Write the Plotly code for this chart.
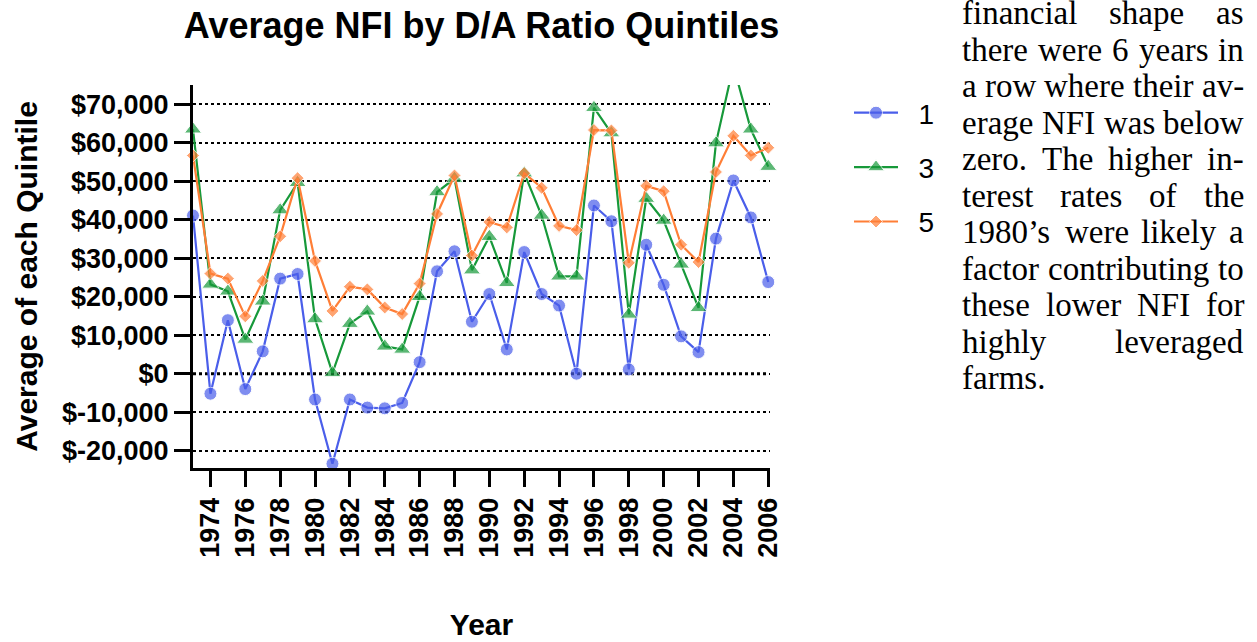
import plotly.graph_objects as go

# ---------------- data ----------------
years = list(range(1973, 2007))
q1 = [41100, -5200, 13900, -4000, 5800, 24700, 25900, -6700, -23400, -6700,
      -8800, -9000, -7600, 3000, 26600, 31800, 13500, 20700, 6300, 31600,
      20700, 17700, 0, 43700, 39600, 1100, 33500, 23100, 9700, 5600,
      35100, 50200, 40600, 23800]
q3 = [63500, 23200, 21400, 8900, 18800, 42500, 49600, 14200, 200, 13000,
      16200, 7100, 6300, 20000, 47200, 50700, 26900, 35600, 23600, 52100,
      41100, 25300, 25300, 69100, 62500, 15400, 45500, 39800, 28400, 17100,
      59900, 80000, 63500, 53800]
q5 = [56700, 26000, 24700, 14900, 24100, 35700, 50800, 29300, 16300, 22600,
      21900, 17200, 15500, 23400, 41500, 51500, 30700, 39400, 38000, 52100,
      48300, 38400, 37300, 63300, 63200, 28800, 48800, 47400, 33500, 29000,
      52400, 61800, 56700, 58700]
series_names = ["1", "3", "5"]
x_tickvals = list(range(1974, 2007, 2))
y_tickvals = list(range(-20000, 70001, 10000))
y_ticktext = [f"${v:,}" for v in y_tickvals]

side_lines = [
    "financial shape as",
    "there were 6 years in",
    "a row where their av-",
    "erage NFI was below",
    "zero. The higher in-",
    "terest rates of the",
    "1980\u2019s were likely a",
    "factor contributing to",
    "these lower NFI for",
    "highly leveraged",
    "farms.",
]

# ---------------- layout constants ----------------
W, H = 1257, 642
PL, PR, PT, PB = 193, 770, 85, 468
Y_MIN, Y_MAX = -24500, 75000
X_RANGE = [1973, 2006.1]

colors = ["#4A5EEA", "#17993A", "#FF7E36"]
symbols = ["circle", "triangle-up", "diamond"]
msizes = [13, 15, 10]

fig = go.Figure()
for name, vals, col, sym, ms in zip(series_names, [q1, q3, q5], colors, symbols, msizes):
    sizes = [ms if (Y_MIN <= v <= Y_MAX) else 0 for v in vals]
    fig.add_trace(go.Scatter(
        x=years, y=vals, name="\u00a0\u00a0" + name, mode="lines+markers",
        line=dict(color=col, width=2.2),
        marker=dict(symbol=sym, size=sizes, color=col),
        cliponaxis=False, legendgroup=name,
    ))

# zero reference line (heavier dotted)
fig.add_shape(type="line", xref="x domain", yref="y", x0=0, x1=0.995, y0=0, y1=0,
              line=dict(color="black", width=3, dash="dot"), layer="below")

tick_font = dict(family="Liberation Sans, Arial", size=27, color="black", weight="bold")

fig.update_layout(
    width=W, height=H,
    margin=dict(l=PL, r=W - PR, t=PT, b=H - PB, pad=0, autoexpand=False),
    paper_bgcolor="white", plot_bgcolor="white",
    title=dict(text="Average NFI by D/A Ratio Quintiles", x=0.5, xref="paper",
               y=1 - 25 / H, yref="container", yanchor="middle", xanchor="center",
               font=dict(family="Liberation Sans, Arial", size=36, color="black", weight="bold")),
    xaxis=dict(range=X_RANGE, tickvals=x_tickvals, tickangle=-90, tickfont=tick_font,
               showline=True, linewidth=3, linecolor="black", ticks="outside",
               ticklen=16, tickwidth=3, tickcolor="black", showgrid=False, zeroline=False,
               automargin=False,
               title=dict(text="Year", standoff=58,
                          font=dict(family="Liberation Sans, Arial", size=30, color="black", weight="bold"))),
    yaxis=dict(range=[Y_MIN, Y_MAX], tickvals=y_tickvals, ticktext=y_ticktext, tickfont=tick_font,
               showline=True, linewidth=3, linecolor="black", ticks="outside",
               ticklen=16, tickwidth=3, tickcolor="black", automargin=False,
               showgrid=True, gridcolor="black", gridwidth=1.5, griddash="dot", zeroline=False,
               title=dict(text="Average of each Quintile", standoff=16,
                          font=dict(family="Liberation Sans, Arial", size=30, color="black", weight="bold"))),
    legend=dict(x=(849 - PL) / (PR - PL), y=(PB - 88) / (PB - PT), xanchor="left", yanchor="top",
                font=dict(family="Liberation Sans, Arial", size=28, color="black"),
                itemwidth=44, tracegroupgap=15, bgcolor="rgba(0,0,0,0)"),
    showlegend=True,
)

# ---------------- justified side text ----------------
TW = {' ': 250, '.': 250, ',': 250, '-': 333, '\u2019': 333,
      'a': 444, 'b': 500, 'c': 444, 'd': 500, 'e': 444, 'f': 333, 'g': 500, 'h': 500,
      'i': 278, 'j': 278, 'k': 500, 'l': 278, 'm': 778, 'n': 500, 'o': 500, 'p': 500,
      'q': 500, 'r': 333, 's': 389, 't': 278, 'u': 500, 'v': 500, 'w': 722, 'x': 500,
      'y': 500, 'z': 444, 'N': 722, 'F': 556, 'I': 333, 'T': 611}
TS = 33
TX0, TX1 = 962, 1244
LINE0, LSTEP = 13, 36.5


def tw(s):
    return sum(TW.get(c, 500) for c in s) / 1000 * TS


def px_x(px):
    return (px - PL) / (PR - PL)


def px_y(py):
    return (PB - py) / (PB - PT)


serif = dict(family="Liberation Serif, Times New Roman", size=TS, color="black")
for i, line in enumerate(side_lines):
    yc = LINE0 + LSTEP * i
    words = line.split(" ")
    last = i == len(side_lines) - 1
    if last or len(words) == 1:
        fig.add_annotation(text=line, x=px_x(TX0), y=px_y(yc), xref="paper", yref="paper",
                           xanchor="left", yanchor="middle", showarrow=False, font=serif,
                           borderpad=0, borderwidth=0)
        continue
    widths = [tw(w) for w in words]
    gap = (TX1 - TX0 - sum(widths)) / (len(words) - 1)
    xpos = TX0
    for j, (w, wd) in enumerate(zip(words, widths)):
        if j == len(words) - 1:
            fig.add_annotation(text=w, x=px_x(TX1), y=px_y(yc), xref="paper", yref="paper",
                               xanchor="right", yanchor="middle", showarrow=False, font=serif,
                               borderpad=0, borderwidth=0)
        else:
            fig.add_annotation(text=w, x=px_x(xpos), y=px_y(yc), xref="paper", yref="paper",
                               xanchor="left", yanchor="middle", showarrow=False, font=serif,
                               borderpad=0, borderwidth=0)
        xpos += wd + gap

fig.write_html("out.html", config={"displayModeBar": False},
               post_script="document.body.style.margin='0';")
